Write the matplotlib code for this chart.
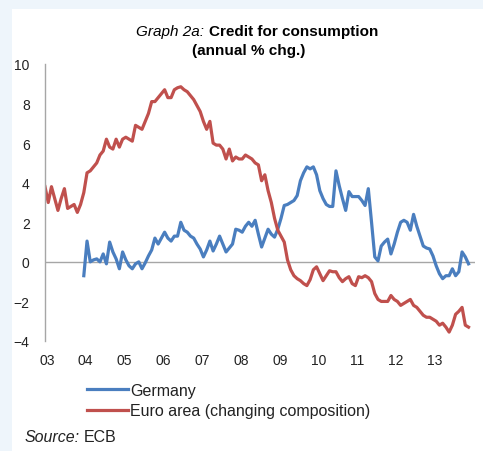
# Graph 2a: credit for consumption, annual % change
import matplotlib.pyplot as plt
from matplotlib.patches import Rectangle

plt.rcParams["font.family"] = ["Liberation Sans", "DejaVu Sans"]

# monthly values, Jan 2003 .. Dec 2013
euro = [3.8, 3.0, 3.8, 3.2, 2.6, 3.2, 3.7, 2.7, 2.8, 2.9, 2.5, 2.9,
        3.5, 4.5, 4.6, 4.8, 5.0, 5.4, 5.6, 6.2, 5.8, 5.7, 6.2, 5.8,
        6.2, 6.3, 6.2, 6.1, 6.9, 6.8, 6.7, 7.1, 7.5, 8.1, 8.1, 8.3,
        8.5, 8.7, 8.3, 8.3, 8.7, 8.8, 8.85, 8.7, 8.6, 8.4, 8.2, 7.9,
        7.6, 7.1, 6.7, 7.1, 6.0, 5.9, 5.9, 5.7, 5.2, 5.7, 5.1, 5.3,
        5.2, 5.2, 5.4, 5.3, 5.2, 5.0, 4.9, 4.1, 4.4, 3.6, 3.0, 2.2,
        1.6, 1.3, 1.0, 0.1, -0.4, -0.7, -0.85, -0.95, -1.1, -1.2, -0.9, -0.4,
        -0.25, -0.6, -0.95, -0.7, -0.45, -0.5, -0.5, -0.8, -1.0, -0.85, -0.75, -1.1,
        -1.2, -0.75, -0.8, -0.7, -0.8, -1.0, -1.6, -1.9, -2.0, -2.0, -2.0, -1.7,
        -1.9, -2.0, -2.2, -2.1, -2.0, -1.9, -2.2, -2.3, -2.5, -2.7, -2.8, -2.8,
        -2.9, -3.0, -3.2, -3.1, -3.3, -3.55, -3.2, -2.65, -2.5, -2.3, -3.2, -3.3]

# Germany starts Jan 2004
germany = [-0.7, 1.05, 0.0, 0.1, 0.15, 0.0, 0.4, -0.1, 1.0, 0.5, 0.15, -0.35,
           0.5, 0.1, -0.2, -0.35, -0.1, 0.0, -0.35, -0.05, 0.3, 0.6, 1.2, 0.9,
           1.2, 1.5, 1.2, 1.05, 1.3, 1.3, 2.0, 1.6, 1.5, 1.3, 1.2, 0.9,
           0.65, 0.25, 0.6, 1.05, 0.55, 0.9, 1.3, 0.9, 0.5, 0.7, 0.9, 1.65,
           1.6, 1.5, 1.8, 2.0, 1.8, 2.1, 1.4, 0.75, 1.2, 1.65, 1.4, 1.25,
           1.65, 2.2, 2.85, 2.9, 3.0, 3.1, 3.35, 4.1, 4.5, 4.8, 4.7, 4.8,
           4.4, 3.6, 3.2, 2.9, 2.8, 2.8, 4.6, 3.85, 3.2, 2.6, 3.55, 3.3,
           3.3, 3.3, 3.1, 2.85, 3.7, 2.0, 0.25, 0.05, 0.8, 1.0, 1.15, 0.4,
           0.9, 1.5, 2.0, 2.1, 2.0, 1.6, 2.4, 1.8, 1.3, 0.8, 0.7, 0.65,
           0.3, -0.2, -0.6, -0.85, -0.7, -0.7, -0.35, -0.7, -0.5, 0.5, 0.25, -0.1]

years = ["03", "04", "05", "06", "07", "08", "09", "10", "11", "12", "13"]

x_euro = list(range(len(euro)))
x_ger = list(range(12, 12 + len(germany)))

W, H = 483, 452
fig = plt.figure(figsize=(W / 100, H / 100), dpi=100)
fig.patch.set_facecolor("#eef5fb")
fig.add_artist(Rectangle((12 / W, 0), 1, 1 - 10 / H, transform=fig.transFigure,
                         facecolor="white", edgecolor="none", zorder=0))

ax = fig.add_axes([45 / W, 1 - 342 / H, 430 / W, 277 / H])
ax.set_facecolor("none")
blue = "#4a7ebf"
red = "#c0504d"
ax.plot(x_ger, germany, color=blue, lw=2.3, label="Germany", solid_joinstyle="round")
ax.plot(x_euro, euro, color=red, lw=2.3, label="Euro area (changing composition)",
        solid_joinstyle="round")
ax.axhline(0, color="#a6a6a6", lw=1, zorder=1)

ax.set_xlim(0, 133)
ax.set_ylim(-4, 10)
ax.set_yticks(range(-4, 11, 2))
ax.set_xticks([12 * i + 0.6 for i in range(len(years))])
ax.set_xticklabels(years)
ax.tick_params(axis="both", length=0, labelsize=10, colors="#222222")
ax.tick_params(axis="y", pad=11)
ax.tick_params(axis="x", pad=9)
for s in ["top", "right", "bottom"]:
    ax.spines[s].set_visible(False)
ax.spines["left"].set_color("#a6a6a6")
ax.spines["left"].set_linewidth(1)

# title: italic prefix + bold text
fig.text(204 / W, 1 - 32 / H, "Graph 2a:", style="italic", fontsize=11,
         ha="right", va="center")
fig.text(209 / W, 1 - 32 / H, "Credit for consumption", weight="bold", fontsize=11,
         ha="left", va="center")
fig.text(249 / W, 1 - 51 / H, "(annual % chg.)", weight="bold", fontsize=11,
         ha="center", va="center")

leg = ax.legend(loc="upper left", bbox_to_anchor=(87 / W, 1 - 384 / H),
                bbox_transform=fig.transFigure, frameon=False, fontsize=11.5,
                handlelength=2.55, handletextpad=0.15, labelspacing=0.32,
                borderpad=0, borderaxespad=0)
for t in leg.get_texts():
    t.set_color("#222222")

fig.text(25 / W, 1 - 438 / H, "Source:", style="italic", fontsize=11.5,
         ha="left", va="center", color="#222222")
fig.text(84 / W, 1 - 438 / H, "ECB", fontsize=11.5, ha="left", va="center",
         color="#222222")

fig.savefig("out.png", dpi=100, facecolor=fig.get_facecolor())
